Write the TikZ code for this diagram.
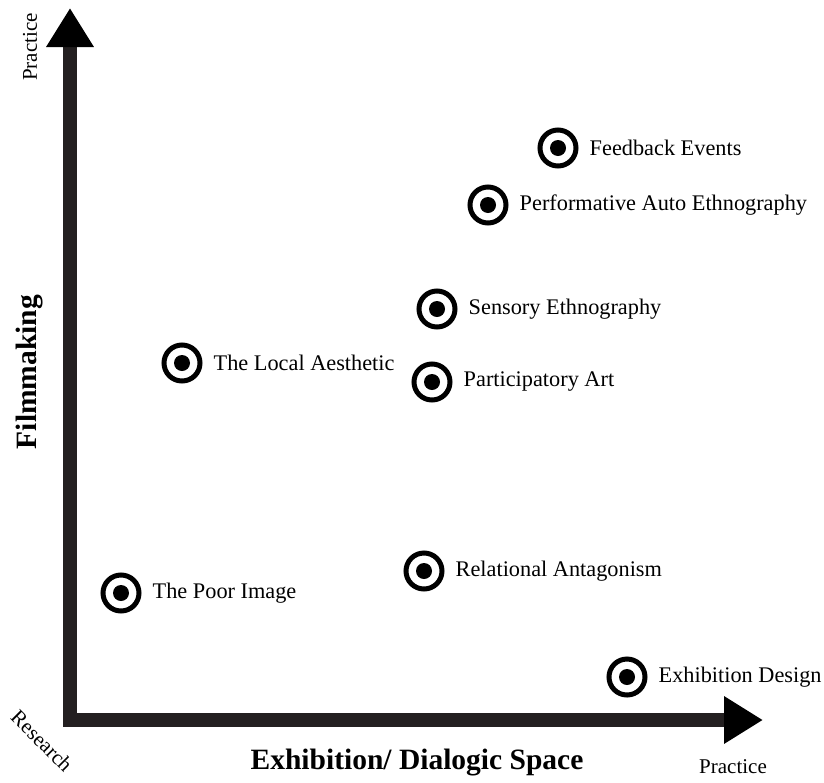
\documentclass[tikz,border=0pt]{standalone}
\usepackage{fontspec}
\setmainfont{Liberation Serif}
\usetikzlibrary{arrows.meta, positioning}
\definecolor{axisgray}{RGB}{35, 31, 32}

\begin{document}
\begin{tikzpicture}[x=1pt, y=-1pt,
  target/.style={circle, draw=black, line width=5pt, minimum size=36pt, inner sep=0pt,
    path picture={\fill[black] (path picture bounding box.center) circle (8pt);}},
  tag/.style={inner sep=0pt, font=\fontsize{22.3}{26}\selectfont, right=11pt of #1},
  axislabel/.style={inner sep=0pt, font=\fontsize{29.5}{34}\selectfont\bfseries},
  endlabel/.style={inner sep=0pt, font=\fontsize{21}{25}\selectfont}]
  \useasboundingbox (0,0) rectangle (824,782);

  % Axes
  \coordinate (ytip) at (70,8);
  \coordinate (origin) at (70,720);
  \coordinate (xtip) at (763,720);
  \draw[axisgray, line width=14pt, line join=miter,
    {Triangle[length=39pt, width=45pt, black]}-{Triangle[length=39pt, width=45pt, black]}]
    (ytip) -- (origin) -- (xtip);

  % Axis labels
  \node[endlabel, rotate=90] (ypractice) at (30,47) {Practice};
  \node[endlabel, rotate=-45] (research) at (42,741) {Research};
  \node[endlabel] (xpractice) at (733,767) {Practice};
  \node[axislabel, rotate=90] (film) at (30,372) {Filmmaking};
  \node[axislabel] (space) at (417,763) {Exhibition/ Dialogic Space};

  % Methods
  \node[target] (feedback) at (558,148) {};
  \node[tag=feedback] (feedbacktxt) {Feedback Events};
  \node[target] (perform) at (488,205) {};
  \node[tag=perform] (performtxt) {Performative Auto Ethnography};
  \node[target] (sensory) at (437,309) {};
  \node[tag=sensory] (sensorytxt) {Sensory Ethnography};
  \node[target] (local) at (182,363) {};
  \node[tag=local] (localtxt) {The Local Aesthetic};
  \node[target] (particip) at (432,382) {};
  \node[tag=particip] (participtxt) {Participatory Art};
  \node[target] (relational) at (424,571) {};
  \node[tag=relational] (relationaltxt) {Relational Antagonism};
  \node[target] (poor) at (121,593) {};
  \node[tag=poor] (poortxt) {The Poor Image};
  \node[target] (exhib) at (627,677) {};
  \node[tag=exhib] (exhibtxt) {Exhibition Design};
\end{tikzpicture}
\end{document}
